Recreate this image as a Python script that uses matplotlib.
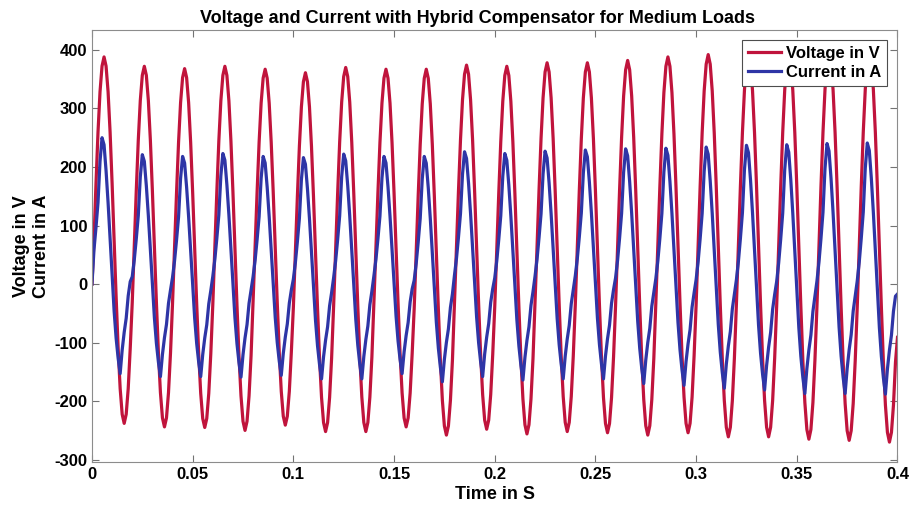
import matplotlib
matplotlib.use("Agg")
import matplotlib.pyplot as plt

plt.rcParams['font.family'] = ['Liberation Sans', 'DejaVu Sans']
plt.rcParams['axes.unicode_minus'] = False

# one 50 Hz cycle = 20 samples of 1 ms
period = 0.02
n_per = 20

# normalised shape of one cycle (-1 = trough, +1 = peak)
v_shape = [-0.31, 0.0, 0.31, 0.59, 0.81, 0.95, 1.0, 0.95, 0.81, 0.59,
           0.31, 0.0, -0.31, -0.59, -0.81, -0.95, -1.0, -0.95, -0.81, -0.59]
i_shape = [-0.10, 0.05, 0.24, 0.45, 0.80, 1.0, 0.94, 0.72, 0.45, 0.15,
           -0.16, -0.47, -0.70, -0.87, -1.0, -0.80, -0.65, -0.53, -0.34, -0.22]

# peak / trough of every cycle
v_peaks = [388, 372, 368, 372, 367, 361, 370, 367, 367, 374,
           372, 378, 378, 382, 388, 392, 393, 394, 395, 396]
v_troughs = [-238, -244, -245, -250, -241, -252, -252, -244, -258, -248,
             -256, -252, -254, -258, -254, -261, -261, -265, -267, -270]
i_peaks = [250, 221, 218, 223, 218, 216, 222, 218, 218, 226,
           223, 227, 229, 231, 232, 234, 237, 238, 240, 241]
i_troughs = [-153, -158, -158, -159, -156, -162, -162, -153, -167, -158,
             -164, -162, -162, -170, -173, -178, -181, -187, -187, -188]

v_start, i_start = 0, 0
v_end, i_end = -91, -17
t_end = 0.4

t, volt, curr = [], [], []
for k in range(len(v_peaks)):
    vm = (v_peaks[k] + v_troughs[k]) / 2
    vh = (v_peaks[k] - v_troughs[k]) / 2
    im = (i_peaks[k] + i_troughs[k]) / 2
    ih = (i_peaks[k] - i_troughs[k]) / 2
    for j in range(n_per):
        t.append(k * period + j * period / n_per)
        volt.append(vm + vh * v_shape[j])
        curr.append(im + ih * i_shape[j])
volt[0] = v_start
curr[0] = i_start
t.append(t_end)
volt.append(v_end)
curr.append(i_end)

fig = plt.figure(figsize=(9.16, 5.19), dpi=100)
ax = fig.add_axes([0.1004, 0.1098, 0.8794, 0.8324])

ax.plot(t, volt, color='#C0143C', lw=2.3, label='Voltage in V')
ax.plot(t, curr, color='#2E35A6', lw=2.3, label='Current in A')

ax.set_xlim(0, 0.4)
ax.set_ylim(-304, 434)
ax.set_xticks([0, 0.05, 0.1, 0.15, 0.2, 0.25, 0.3, 0.35, 0.4])
ax.set_xticklabels(['0', '0.05', '0.1', '0.15', '0.2', '0.25', '0.3', '0.35', '0.4'])
ax.set_yticks([-300, -200, -100, 0, 100, 200, 300, 400])

ax.tick_params(direction='in', length=5, width=0.8, top=True, right=True,
               colors='0.45', labelcolor='black', labelsize=12)
for lab in ax.get_xticklabels() + ax.get_yticklabels():
    lab.set_fontweight('bold')
for s in ax.spines.values():
    s.set_color('0.55')
    s.set_linewidth(0.8)

ax.set_title('Voltage and Current with Hybrid Compensator for Medium Loads',
             fontsize=13, fontweight='bold', pad=5, x=0.478)
ax.set_xlabel('Time in S', fontsize=13, fontweight='bold', labelpad=3)
ax.set_ylabel('Voltage in V\nCurrent in A', fontsize=13, fontweight='bold',
              labelpad=3)

leg = ax.legend(loc='upper right', prop={'weight': 'bold', 'size': 12},
                fancybox=False, framealpha=1, edgecolor='0.3',
                handlelength=2.0, handletextpad=0.3, borderpad=0.35,
                labelspacing=0.25, borderaxespad=0.6)
leg.get_frame().set_linewidth(0.8)

fig.savefig('out.png', dpi=100)
